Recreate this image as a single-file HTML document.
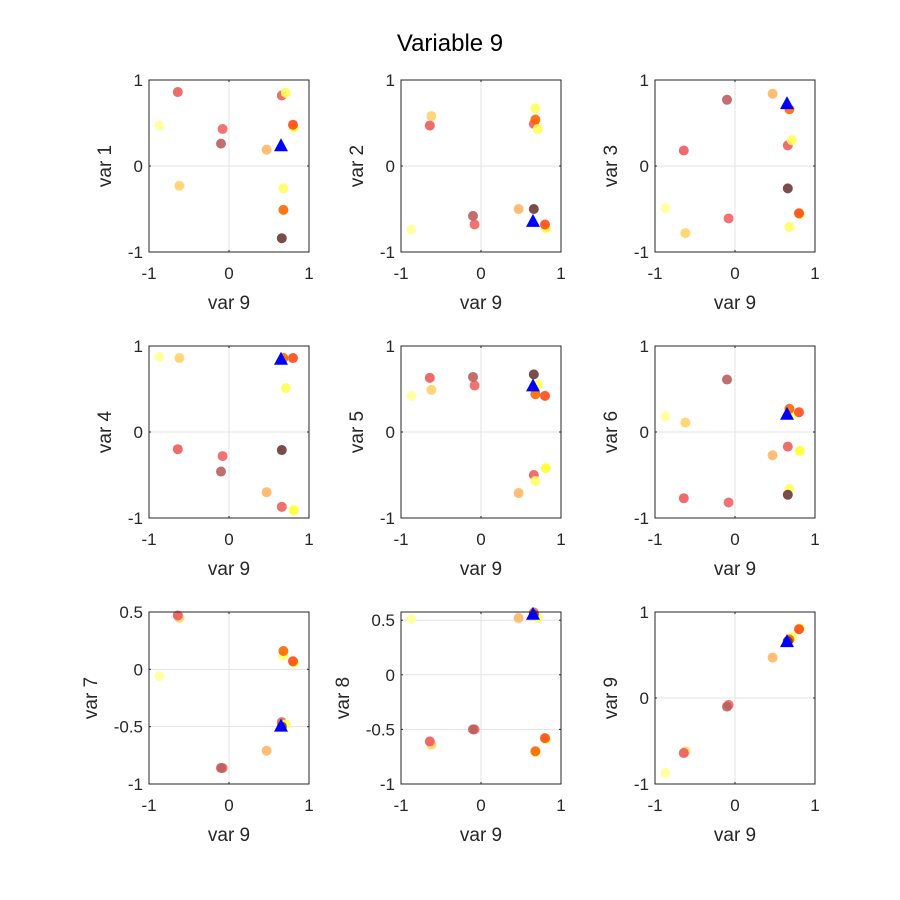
<!DOCTYPE html>
<html><head><meta charset="utf-8"><style>
html,body{margin:0;padding:0;background:#fff;}
svg{display:block;font-family:"Liberation Sans",Arial,sans-serif;}
</style></head><body>
<svg id="fig" width="900" height="900" viewBox="0 0 900 900">
<rect width="900" height="900" fill="#fff"/>
<text x="450" y="51" text-anchor="middle" font-size="24" fill="#000">Variable 9</text>
</svg>
<script>
// x values (var 9) for each observation
const var9 = [-0.87,-0.62,-0.64,-0.08,-0.10,0.47,0.66,0.71,0.81,0.80,0.68,0.68,0.66];
const pointColors = ["#ffff9a","#ffd36a","#ec5c5c","#ef6565","#bd5e5e","#ffb766","#ec5f5f","#ffff55","#ffff30","#ff4a1a","#ffff66","#ff6600","#6a3a35"];
const var1 = [0.47,-0.23,0.86,0.43,0.26,0.19,0.82,0.85,0.45,0.48,-0.26,-0.51,-0.84];
const var2 = [-0.74,0.58,0.47,-0.68,-0.58,-0.50,0.49,0.43,-0.72,-0.68,0.67,0.54,-0.50];
const var3 = [-0.49,-0.78,0.18,-0.61,0.77,0.84,0.24,0.30,-0.56,-0.55,-0.71,0.66,-0.26];
const var4 = [0.875,0.86,-0.20,-0.28,-0.46,-0.70,-0.87,0.51,-0.91,0.86,0.85,0.86,-0.21];
const var5 = [0.42,0.49,0.63,0.54,0.64,-0.71,-0.50,0.55,-0.42,0.42,-0.57,0.44,0.67];
const var6 = [0.18,0.11,-0.77,-0.82,0.61,-0.27,-0.17,0.20,-0.22,0.23,-0.66,0.27,-0.73];
const var7 = [-0.06,0.45,0.47,-0.86,-0.86,-0.71,-0.46,-0.48,0.06,0.07,0.12,0.16,-0.50];
const var8 = [0.51,-0.64,-0.61,-0.50,-0.50,0.52,0.57,0.52,-0.59,-0.58,-0.71,-0.70,0.55];
const highlightX = [0.65];
const highlightY = [0.23,-0.65,0.72,0.84,0.53,0.20,-0.50,0.55,0.65];
const yVars = [var1,var2,var3,var4,var5,var6,var7,var8,var9];
const yLims = [[-1,1],[-1,1],[-1,1],[-1,1],[-1,1],[-1,1],[-1,0.5],[-1,0.575],[-1,1]];
const yTickSets = [[-1,0,1],[-1,0,1],[-1,0,1],[-1,0,1],[-1,0,1],[-1,0,1],[-1,-0.5,0,0.5],[-1,-0.5,0,0.5],[-1,0,1]];
const xTicks = [-1,0,1];

const NS="http://www.w3.org/2000/svg";
const svg=document.getElementById('fig');
function mk(tag,attrs,parent){const e=document.createElementNS(NS,tag);for(const k in attrs)e.setAttribute(k,attrs[k]);parent.appendChild(e);return e;}
const colL=[149,401,655], rowT=[80,346,612], W=160, H=172;
function fmt(v){return String(v);}
for(let p=0;p<9;p++){
  const L=colL[p%3], T=rowT[Math.floor(p/3)];
  const [y0,y1]=yLims[p];
  const sx=v=>L+(v+1)/2*W;
  const sy=v=>T+H-(v-y0)/(y1-y0)*H;
  const g=mk('g',{},svg);
  
  
  xTicks.forEach(t=>{const l=mk('line',{x1:sx(t),x2:sx(t),y1:T,y2:T+H,stroke:'#e3e3e3','stroke-width':1},g);
    });
  yTickSets[p].forEach(t=>{const l=mk('line',{x1:L,x2:L+W,y1:sy(t),y2:sy(t),stroke:'#e3e3e3','stroke-width':1},g);
    });
  const ys=yVars[p];
  for(let i=0;i<var9.length;i++){
    const c=mk('circle',{cx:sx(var9[i]),cy:sy(ys[i]),r:5,fill:pointColors[i],'fill-opacity':0.9},g);
    
    
  }
  const tx=sx(highlightX[0]), ty=sy(highlightY[p]);
  const tri=mk('polygon',{points:`${tx},${ty-8} ${tx-7},${ty+5} ${tx+7},${ty+5}`,fill:'#0000ff'},g);
  
  
  const fr=mk('rect',{x:L,y:T,width:W,height:H,fill:'none',stroke:'#262626','stroke-width':1},g);
  
  xTicks.forEach(t=>{
    mk('line',{x1:sx(t),x2:sx(t),y1:T+H,y2:T+H-2,stroke:'#262626'},g);
    mk('line',{x1:sx(t),x2:sx(t),y1:T,y2:T+2,stroke:'#262626'},g);
    const tl=mk('text',{x:sx(t),y:T+H+27,'text-anchor':'middle','font-size':17,fill:'#262626'},g);
    tl.textContent=fmt(t);
    
  });
  yTickSets[p].forEach(t=>{
    mk('line',{x1:L,x2:L+2,y1:sy(t),y2:sy(t),stroke:'#262626'},g);
    mk('line',{x1:L+W,x2:L+W-2,y1:sy(t),y2:sy(t),stroke:'#262626'},g);
    const tl=mk('text',{x:L-6,y:sy(t)+6,'text-anchor':'end','font-size':17,fill:'#262626'},g);
    tl.textContent=fmt(t);
    
  });
  const xl=mk('text',{x:L+W/2,y:T+H+57,'text-anchor':'middle','font-size':19,fill:'#262626'},g);
  xl.textContent='var 9';
  
  const yoff=(p>=6 && p<8)?52:38;
  const yl=mk('text',{x:0,y:0,'text-anchor':'middle','font-size':19,fill:'#262626',transform:`translate(${L-yoff},${T+H/2}) rotate(-90)`},g);
  yl.textContent='var '+(p+1);
  
}
</script>
</body></html>
